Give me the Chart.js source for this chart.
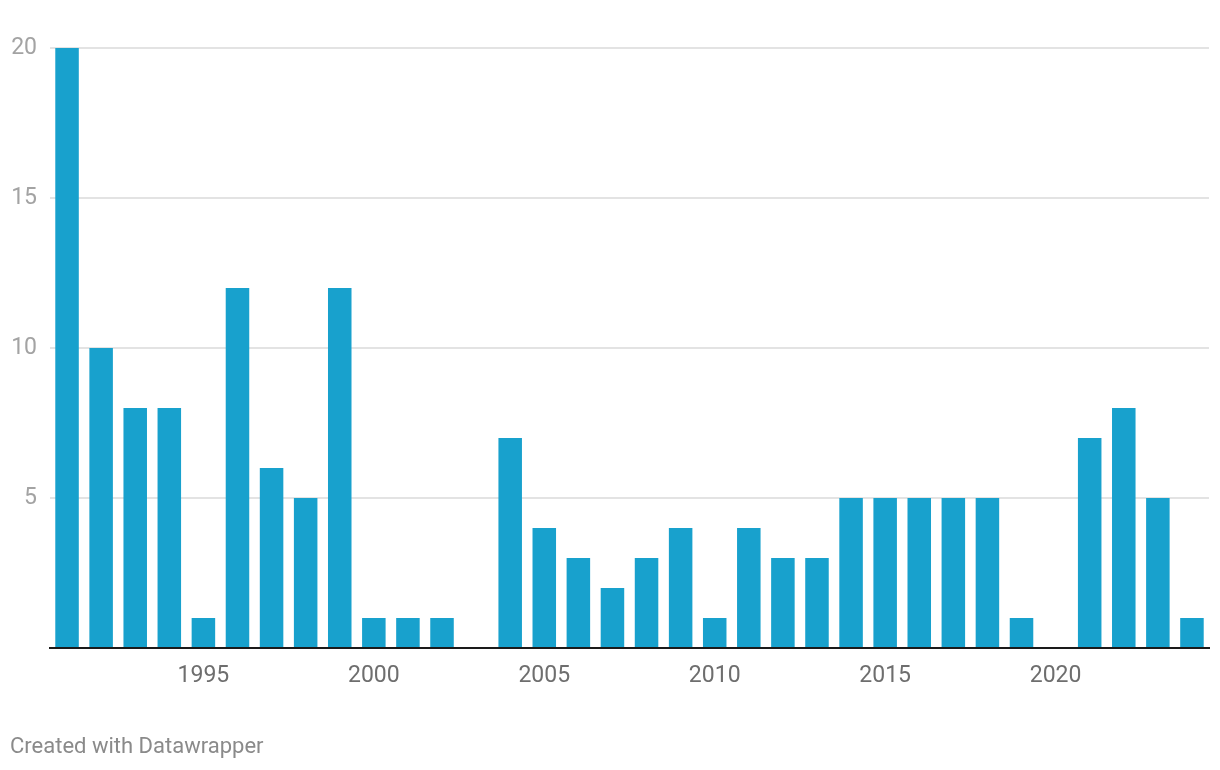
<!DOCTYPE html>
<html>
<head>
<meta charset="utf-8">
<script src="https://cdn.jsdelivr.net/npm/chart.js@4"></script>
<style>
  html, body { margin: 0; padding: 0; background: #fff; }
  #wrap { position: relative; width: 1220px; height: 770px; }
  #footer { position: absolute; left: 10px; top: 733px; font-family: Roboto, sans-serif; font-size: 22px; line-height: 26px; color: #8a8a8a; }
</style>
</head>
<body>
<div id="wrap">
  <canvas id="c" width="1220" height="770"></canvas>
  <div id="footer">Created with Datawrapper</div>
</div>
<script>
const years = [1991,1992,1993,1994,1995,1996,1997,1998,1999,2000,2001,2002,2003,2004,2005,2006,2007,2008,2009,2010,2011,2012,2013,2014,2015,2016,2017,2018,2019,2020,2021,2022,2023,2024];
const values = [20,10,8,8,1,12,6,5,12,1,1,1,0,7,4,3,2,3,4,1,4,3,3,5,5,5,5,5,1,0,7,8,5,1];
const yTicks = [0,5,10,15,20];

new Chart(document.getElementById('c'), {
  type: 'bar',
  data: {
    labels: years.map(String),
    datasets: [{
      data: values,
      backgroundColor: '#18a1cd',
      categoryPercentage: 1.0,
      barPercentage: 0.69
    }]
  },
  options: {
    responsive: false,
    animation: false,
    layout: { padding: { top: 48, right: 11, bottom: 82, left: 0 } },
    plugins: { legend: { display: false }, tooltip: { enabled: false } },
    scales: {
      x: {
        grid: { display: false, drawTicks: false },
        border: { display: true, color: '#1a1a1a', width: 2 },
        ticks: {
          autoSkip: false, maxRotation: 0, minRotation: 0, padding: 14,
          color: '#6e6e6e', font: { family: 'Roboto', size: 23 },
          callback: function(v, i) { const y = years[i]; return y % 5 === 0 ? String(y) : ''; }
        },
        afterFit: function(s) { s.height = 40; }
      },
      y: {
        min: 0, max: 20,
        afterBuildTicks: function(s) { s.ticks = yTicks.map(v => ({ value: v })); },
        grid: { drawTicks: false, color: ctx => ctx.tick && ctx.tick.value === 0 ? 'rgba(0,0,0,0)' : '#e3e3e3', lineWidth: 2 },
        border: { display: false },
        ticks: {
          padding: 13, color: '#a3a3a3', font: { family: 'Roboto', size: 23 },
          callback: v => v === 0 ? '' : String(v)
        },
        afterFit: function(s) { s.width = 50; }
      }
    }
  }
});
</script>
</body>
</html>
